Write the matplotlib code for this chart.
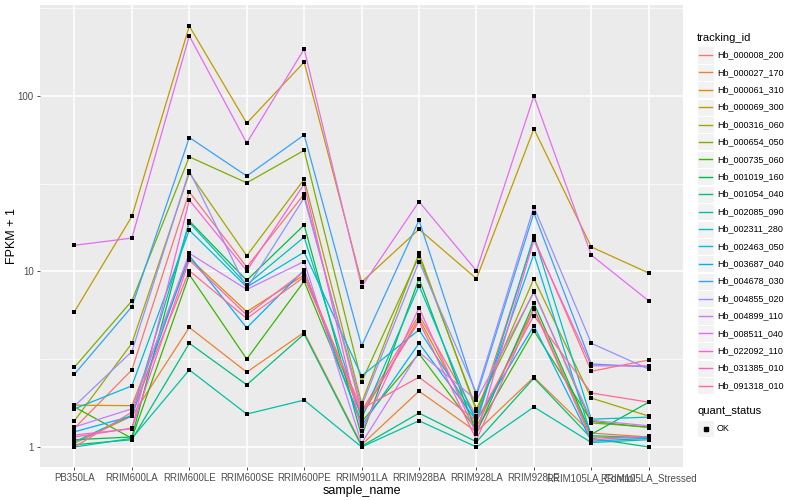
import numpy as np
import matplotlib
matplotlib.use('Agg')
import matplotlib.pyplot as plt
from matplotlib.patches import Rectangle
from matplotlib.lines import Line2D

plt.rcParams['font.family'] = ['Liberation Sans', 'DejaVu Sans']

samples = ['PB350LA', 'RRIM600LA', 'RRIM600LE', 'RRIM600SE', 'RRIM600PE', 'RRIM901LA',
           'RRIM928BA', 'RRIM928LA', 'RRIM928LE', 'RRIM105LA_Control', 'RRIM105LA_Stressed']

tracking_ids = ['Hb_000008_200', 'Hb_000027_170', 'Hb_000061_310', 'Hb_000069_300',
                'Hb_000316_060', 'Hb_000654_050', 'Hb_000735_060', 'Hb_001019_160',
                'Hb_001054_040', 'Hb_002085_090', 'Hb_002311_280', 'Hb_002463_050',
                'Hb_003687_040', 'Hb_004678_030', 'Hb_004855_020', 'Hb_004899_110',
                'Hb_008511_040', 'Hb_022092_110', 'Hb_031385_010', 'Hb_091318_010']

# ggplot hue palette, 20 levels
colors = ['#F8766D', '#EA8331', '#D89000', '#C09B00', '#A3A500', '#7CAE00', '#39B600',
          '#00BB4E', '#00BF7D', '#00C1A3', '#00BFC4', '#00BAE0', '#00B0F6', '#35A2FF',
          '#9590FF', '#C77CFF', '#E76BF3', '#FA62DB', '#FF62BC', '#FF6C91']

# FPKM + 1, one row per tracking_id, columns follow samples
fpkm = [
    [1.28, 2.75, 28.4, 10.6, 27.6, 1.60, 5.65, 1.50, 15.5, 2.70, 3.13],
    [1.05, 1.50, 4.80, 2.67, 4.50, 1.03, 2.08, 1.22, 2.50, 1.20, 1.14],
    [1.73, 1.72, 11.9, 5.90, 9.55, 1.50, 5.40, 1.30, 6.20, 1.14, 1.12],
    [5.90, 20.6, 250., 70.0, 156., 8.70, 17.4, 9.10, 65.0, 13.8, 9.80],
    [1.41, 3.90, 36.4, 12.3, 33.5, 1.78, 12.7, 1.60, 9.10, 1.90, 1.50],
    [2.85, 6.80, 45.0, 32.0, 49.0, 2.35, 12.2, 1.65, 7.70, 1.37, 1.30],
    [1.69, 1.12, 9.60, 3.17, 8.80, 1.39, 3.40, 1.25, 4.60, 1.40, 1.29],
    [1.10, 1.14, 19.4, 8.90, 18.4, 1.15, 9.10, 1.20, 6.60, 1.18, 1.80],
    [1.03, 1.10, 3.90, 2.26, 4.40, 1.01, 1.56, 1.07, 2.47, 1.12, 1.00],
    [1.00, 1.12, 2.75, 1.54, 1.85, 1.00, 1.41, 1.00, 1.69, 1.06, 1.10],
    [1.07, 1.52, 19.0, 8.40, 15.7, 1.45, 8.30, 1.37, 15.9, 1.44, 1.48],
    [1.65, 2.23, 17.2, 8.15, 12.9, 2.54, 4.65, 1.46, 12.6, 1.16, 1.13],
    [1.22, 1.50, 12.3, 4.77, 10.2, 1.32, 3.90, 1.41, 4.90, 1.08, 1.12],
    [2.60, 6.30, 58.0, 35.0, 60.0, 3.76, 19.6, 1.95, 21.6, 2.97, 2.86],
    [1.71, 3.50, 37.5, 8.00, 26.3, 1.71, 11.4, 2.03, 23.3, 3.90, 2.78],
    [1.30, 1.65, 12.7, 7.90, 11.4, 1.05, 3.47, 1.85, 7.60, 1.42, 1.32],
    [14.1, 15.5, 220., 54.0, 185., 8.20, 25.0, 10.1, 100., 12.4, 6.80],
    [1.17, 1.27, 25.5, 10.1, 31.5, 1.23, 6.20, 1.18, 15.1, 2.90, 2.90],
    [1.14, 1.28, 11.6, 5.65, 10.0, 1.56, 5.20, 1.10, 6.10, 1.10, 1.15],
    [1.00, 1.58, 10.1, 5.40, 9.30, 1.65, 2.50, 1.41, 5.60, 2.03, 1.80],
]

fig = plt.figure(figsize=(8, 5), dpi=100)
ax = fig.add_axes([0.05, 0.066, 0.804, 0.924])
ax.set_facecolor('#EBEBEB')

x = np.arange(len(samples))
for tid, col, vals in zip(tracking_ids, colors, fpkm):
    ax.plot(x, vals, color=col, lw=0.9, zorder=3)
for vals in fpkm:
    ax.scatter(x, vals, s=9, c='black', marker='s', lw=0, zorder=4)

ax.set_yscale('log')
ax.set_yticks([1, 10, 100])
ax.set_yticklabels(['1', '10', '100'])
ax.set_yticks([10 ** 0.5, 10 ** 1.5, 10 ** 2.5], minor=True)
ax.yaxis.set_minor_formatter(plt.NullFormatter())
ax.set_xticks(x)
ax.set_xticklabels(samples)
ax.set_ylim(0.769, 330)
ax.set_xlim(-0.6, len(samples) - 0.4)

ax.grid(True, which='major', color='white', lw=1.1, zorder=0)
ax.grid(True, which='minor', axis='y', color='white', lw=0.5, zorder=0)
ax.set_axisbelow(True)
for s in ax.spines.values():
    s.set_visible(False)
ax.tick_params(axis='both', which='major', colors='#333333', labelcolor='#4D4D4D',
               labelsize=7, length=2.5, width=0.6, pad=2)
ax.tick_params(axis='y', which='minor', length=0)
ax.set_xlabel('sample_name', fontsize=9, labelpad=1)
ax.set_ylabel('FPKM + 1', fontsize=9)
ax.yaxis.set_label_coords(-0.034, 0.5)

# legend drawn by hand to get ggplot look
W, H = 800, 500


def fx(px):
    return px / W


def fy(py):
    return 1 - py / H


fig.text(fx(697), fy(38), 'tracking_id', fontsize=8, va='center', ha='left')
for i, (tid, col) in enumerate(zip(tracking_ids, colors)):
    yc = 55 + i * 17.4
    fig.add_artist(Rectangle((fx(697), fy(yc + 8.5)), 17 / W, 17 / H,
                             facecolor='#F2F2F2', edgecolor='white', lw=0.8))
    fig.add_artist(Line2D([fx(699), fx(712)], [fy(yc), fy(yc)], color=col, lw=1))
    fig.text(fx(717), fy(yc), tid, fontsize=6.5, va='center', ha='left')

fig.text(fx(697), fy(411), 'quant_status', fontsize=8, va='center', ha='left')
fig.add_artist(Rectangle((fx(697), fy(437)), 17 / W, 17 / H,
                         facecolor='#F2F2F2', edgecolor='white', lw=0.8))
fig.add_artist(Line2D([fx(705.5)], [fy(428.5)], marker='s', ms=2.2, color='black', lw=0))
fig.text(fx(717), fy(428.5), 'OK', fontsize=6.5, va='center', ha='left')

fig.savefig('out.png', dpi=100)
